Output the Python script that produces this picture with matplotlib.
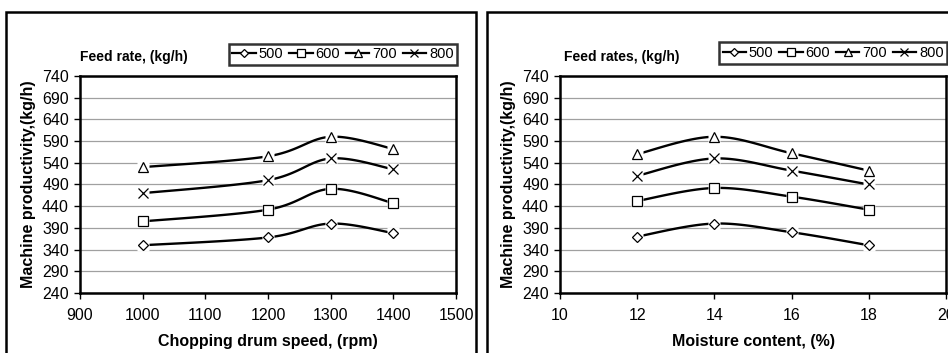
import matplotlib
matplotlib.use("Agg")
import matplotlib.pyplot as plt
from matplotlib.patches import Rectangle
import numpy as np

plt.rcParams['font.family'] = ['Liberation Sans', 'DejaVu Sans']

# feed rates (series)
feed_rates = ['500', '600', '700', '800']
markers = ['D', 's', '^', 'x']
msizes = [5, 7, 7, 7]

# left chart: chopping drum speed
speed = [1000, 1200, 1300, 1400]
speed_500 = [350, 368, 400, 378]
speed_600 = [405, 432, 480, 447]
speed_700 = [530, 555, 600, 572]
speed_800 = [470, 500, 550, 525]

# right chart: moisture content
moisture = [12, 14, 16, 18]
moist_500 = [370, 400, 380, 350]
moist_600 = [452, 482, 462, 432]
moist_700 = [560, 600, 562, 522]
moist_800 = [510, 550, 522, 490]

W, H = 948, 353


def smooth(x, y, n=30):
    # Excel-like bezier smoothing between the points
    x = np.asarray(x, float)
    y = np.asarray(y, float)
    px = np.concatenate([[x[0]], x, [x[-1]]])
    py = np.concatenate([[y[0]], y, [y[-1]]])
    xs, ys = [], []
    t = np.linspace(0, 1, n)
    for i in range(1, len(px) - 2):
        p0 = np.array([px[i], py[i]])
        p3 = np.array([px[i + 1], py[i + 1]])
        c1 = p0 + (p3 - np.array([px[i - 1], py[i - 1]])) / 6
        c2 = p3 - (np.array([px[i + 2], py[i + 2]]) - p0) / 6
        b = ((1 - t) ** 3)[:, None] * p0 + (3 * (1 - t) ** 2 * t)[:, None] * c1 \
            + (3 * (1 - t) * t ** 2)[:, None] * c2 + (t ** 3)[:, None] * p3
        xs.extend(b[:, 0])
        ys.extend(b[:, 1])
    return xs, ys


def frac(x0, y0, x1, y1):
    return [x0 / W, 1 - y1 / H, (x1 - x0) / W, (y1 - y0) / H]


fig = plt.figure(figsize=(W / 100, H / 100), dpi=100)

# outer chart frames
fig.patches.append(Rectangle((6 / W, -0.1), 470 / W, 1.1 - 12 / H, transform=fig.transFigure,
                             fill=False, edgecolor='black', linewidth=1.8))
fig.patches.append(Rectangle((487 / W, -0.1), 0.5, 1.1 - 12 / H, transform=fig.transFigure,
                             fill=False, edgecolor='black', linewidth=1.8))


def draw(rect, x, series, xlim, xticks, xlabel, title, title_x, leg_box):
    ax = fig.add_axes(frac(*rect))
    for ys, m, ms, lab in zip(series, markers, msizes, feed_rates):
        sx, sy = smooth(x, ys)
        ax.plot(sx, sy, color='black', lw=1.7, zorder=3)
        ax.plot(x, ys, linestyle='none', marker='s', ms=9, mfc='white', mec='none', zorder=4)
        ax.plot(x, ys, linestyle='none', marker=m, ms=ms, mfc='white', mec='black',
                mew=0.9, zorder=5)
        # legend proxy
        ax.plot([], [], color='black', lw=1.6, marker=m, ms=ms - 1, mfc='white', mec='black',
                mew=0.9, label=lab)
    ax.set_xlim(*xlim)
    ax.set_xticks(xticks)
    ax.set_ylim(240, 740)
    ax.set_yticks(range(240, 741, 50))
    ax.yaxis.grid(True, color='#a0a0a0', lw=0.9)
    ax.set_axisbelow(True)
    for s in ax.spines.values():
        s.set_linewidth(1.8)
    ax.tick_params(direction='out', length=4, width=1, labelsize=11.5)
    ax.tick_params(axis='x', pad=7)
    ax.tick_params(axis='y', pad=4)
    ax.set_xlabel(xlabel, fontsize=11.5, fontweight='bold', labelpad=8)
    ax.set_ylabel('Machine productivity,(kg/h)', fontsize=11.5, fontweight='bold', labelpad=4)
    fig.text(title_x / W, 1 - 57 / H, title, fontsize=10, fontweight='bold', va='center')
    x0, y0, x1, y1 = leg_box
    leg = ax.legend(loc='center', bbox_to_anchor=((x0 + x1) / 2 / W, 1 - (y0 + y1) / 2 / H),
                    bbox_transform=fig.transFigure, ncol=4, fontsize=10.5, frameon=True,
                    fancybox=False, handlelength=1.6, handletextpad=0.2, columnspacing=0.4,
                    borderpad=0.25, borderaxespad=0)
    leg.get_frame().set_edgecolor('black')
    leg.get_frame().set_linewidth(1.8)
    return ax


draw((80, 76, 456, 293), speed, [speed_500, speed_600, speed_700, speed_800],
     (900, 1500), range(900, 1501, 100), 'Chopping drum speed, (rpm)',
     'Feed rate, (kg/h)', 80, (231, 43, 455, 66))
draw((560, 76, 946, 293), moisture, [moist_500, moist_600, moist_700, moist_800],
     (10, 20), range(10, 21, 2), 'Moisture content, (%)',
     'Feed rates, (kg/h)', 564, (721, 42, 945, 64))

fig.savefig('out.png', dpi=100)
